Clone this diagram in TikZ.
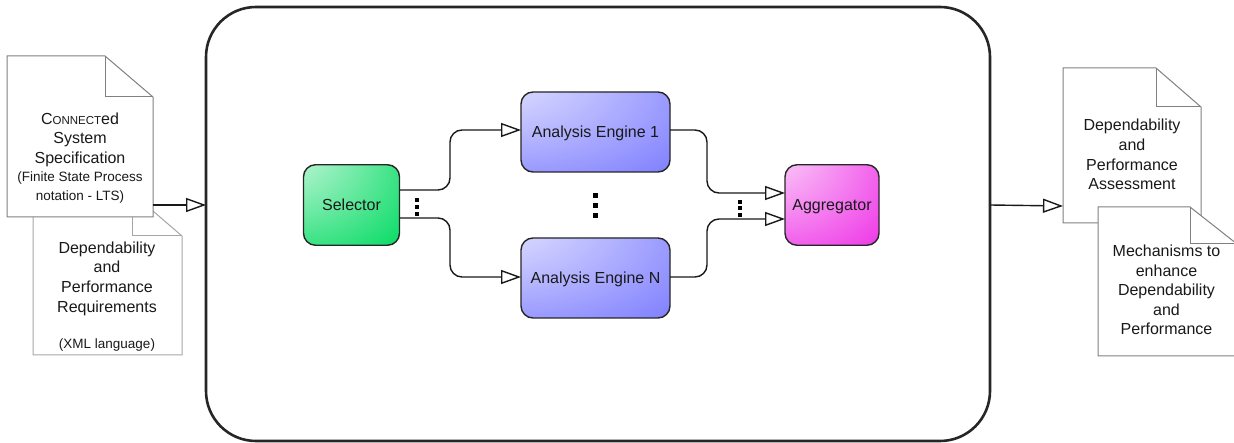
\documentclass[tikz,border=0pt]{standalone}
\usepackage{fontspec}
\setmainfont{Liberation Sans}
\usetikzlibrary{arrows.meta}
\definecolor{bluec}{RGB}{124,124,255}
\definecolor{greenc}{RGB}{0,218,96}
\definecolor{magc}{RGB}{238,50,230}
\pgfdeclareradialshading{cornerblue}{\pgfpoint{-50bp}{50bp}}{color(0bp)=(white);color(64bp)=(bluec);color(100bp)=(bluec)}
\pgfdeclareradialshading{cornergreen}{\pgfpoint{-50bp}{50bp}}{color(0bp)=(white);color(64bp)=(greenc);color(100bp)=(greenc)}
\pgfdeclareradialshading{cornermag}{\pgfpoint{-50bp}{50bp}}{color(0bp)=(white);color(64bp)=(magc);color(100bp)=(magc)}
\tikzset{
  blockbox/.style={draw=black!85,line width=1.4pt,rounded corners=12pt,inner sep=0pt,font=\fontsize{16}{19}\selectfont,text=black!90,text height=12pt,text depth=0.6pt},
  conn/.style={draw=black!90,line width=1.4pt,rounded corners=12pt,-{Triangle[open,fill=white,length=20pt,width=14pt]}},
  docshape/.style={draw=black!50,line width=1pt,fill=white,line join=miter},
  doctext/.style={align=center,inner sep=0pt,font=\fontsize{16}{19.6}\selectfont,text=black!90},
  dotmark/.style={fill=black,inner sep=0pt,minimum width=3.6pt,minimum height=4pt},
  bigdot/.style={fill=black,inner sep=0pt,minimum width=5pt,minimum height=5pt}
}
\newcommand{\smalltxt}{\fontsize{13.5}{19.6}\selectfont}
\newcommand{\scname}[1]{{\fontsize{11.5}{19.6}\selectfont #1}}
\newcommand{\docdraw}[7][docshape]{%
  % left, top, right, bottom, foldx, foldy
  \draw[#1] (#2,#3) -- (#6,#3) -- (#4,#7) -- (#4,#5) -- (#2,#5) -- cycle;
  \draw[#1,fill=none] (#6,#3) -- (#6,#7) -- (#4,#7);
}
\begin{document}
\begin{tikzpicture}[x=1pt,y=-1pt]
\useasboundingbox (0,0) rectangle (1234,443);
% outer container
\node[draw=black!85,line width=2.6pt,rounded corners=50pt,minimum width=784pt,minimum height=434pt,inner sep=0pt] (sys) at (598,224) {};
% input documents
\docdraw[docshape,draw=black!35]{33}{193}{182}{355}{132}{236}
\node[doctext] (req) at (107,278.5) {Dependability\\and\\Performance\\Requirements};
\node[doctext,font=\smalltxt] (xml) at (107,345.5) {(XML language)};
\docdraw{7}{56}{153}{217}{105}{97}
\node[doctext] (spec) at (80,139.5) {C\scname{ONNECT}ed\\System\\Specification};
\node[doctext,font=\smalltxt] (fsp) at (80,187.5) {(Finite State Process\\notation - LTS)};
% output documents
\docdraw{1063}{68}{1201}{223}{1156}{107}
\node[doctext] (assess) at (1132,154.5) {Dependability\\and\\Performance\\Assessment};
\docdraw{1098}{207}{1237}{356}{1190}{244}
\node[doctext] (mech) at (1166.5,290) {Mechanisms to\\enhance\\Dependability\\and\\Performance};
% blocks
\node[blockbox,shading=cornergreen,minimum width=96pt,minimum height=80.5pt] (sel) at (351.5,205) {Selector};
\node[blockbox,shading=cornerblue,minimum width=149pt,minimum height=80pt] (ae1) at (595.5,132) {Analysis Engine 1};
\node[blockbox,shading=cornerblue,minimum width=149pt,minimum height=80pt] (aen) at (595.5,278) {Analysis Engine N};
\node[blockbox,shading=cornermag,minimum width=94pt,minimum height=80.5pt] (agg) at (832,205) {Aggregator};
% connector attachment points
\coordinate (docout) at (153,205);
\coordinate (sysin) at (206,205);
\coordinate (sysout) at (990,205);
\coordinate (docin) at (1063,206);
\coordinate (s1) at (399.5,190);
\coordinate (s2) at (399.5,218);
\coordinate (a1) at (521,130);
\coordinate (an) at (521,277);
\coordinate (b1) at (670,130);
\coordinate (bn) at (670,277);
\coordinate (g1) at (785,193);
\coordinate (g2) at (785,219);
% connectors
\draw[conn] (docout) -- (sysin);
\draw[conn] (sysout) -- (docin);
\draw[conn] (s1) -- (450,190) -- (450,130) -- (a1);
\draw[conn] (s2) -- (450,218) -- (450,277) -- (an);
\draw[conn] (b1) -- (707,130) -- (707,193) -- (g1);
\draw[conn] (bn) -- (707,277) -- (707,219) -- (g2);
% ellipsis marks
\node[dotmark] (d1) at (417,200.5) {};
\node[dotmark] (d2) at (417,207) {};
\node[dotmark] (d3) at (417,214) {};
\node[bigdot] (m1) at (595,196) {};
\node[bigdot] (m2) at (595,205.5) {};
\node[bigdot] (m3) at (595,216) {};
\node[dotmark] (r1) at (740,202) {};
\node[dotmark] (r2) at (740,208) {};
\node[dotmark] (r3) at (740,215) {};
\end{tikzpicture}
\end{document}
